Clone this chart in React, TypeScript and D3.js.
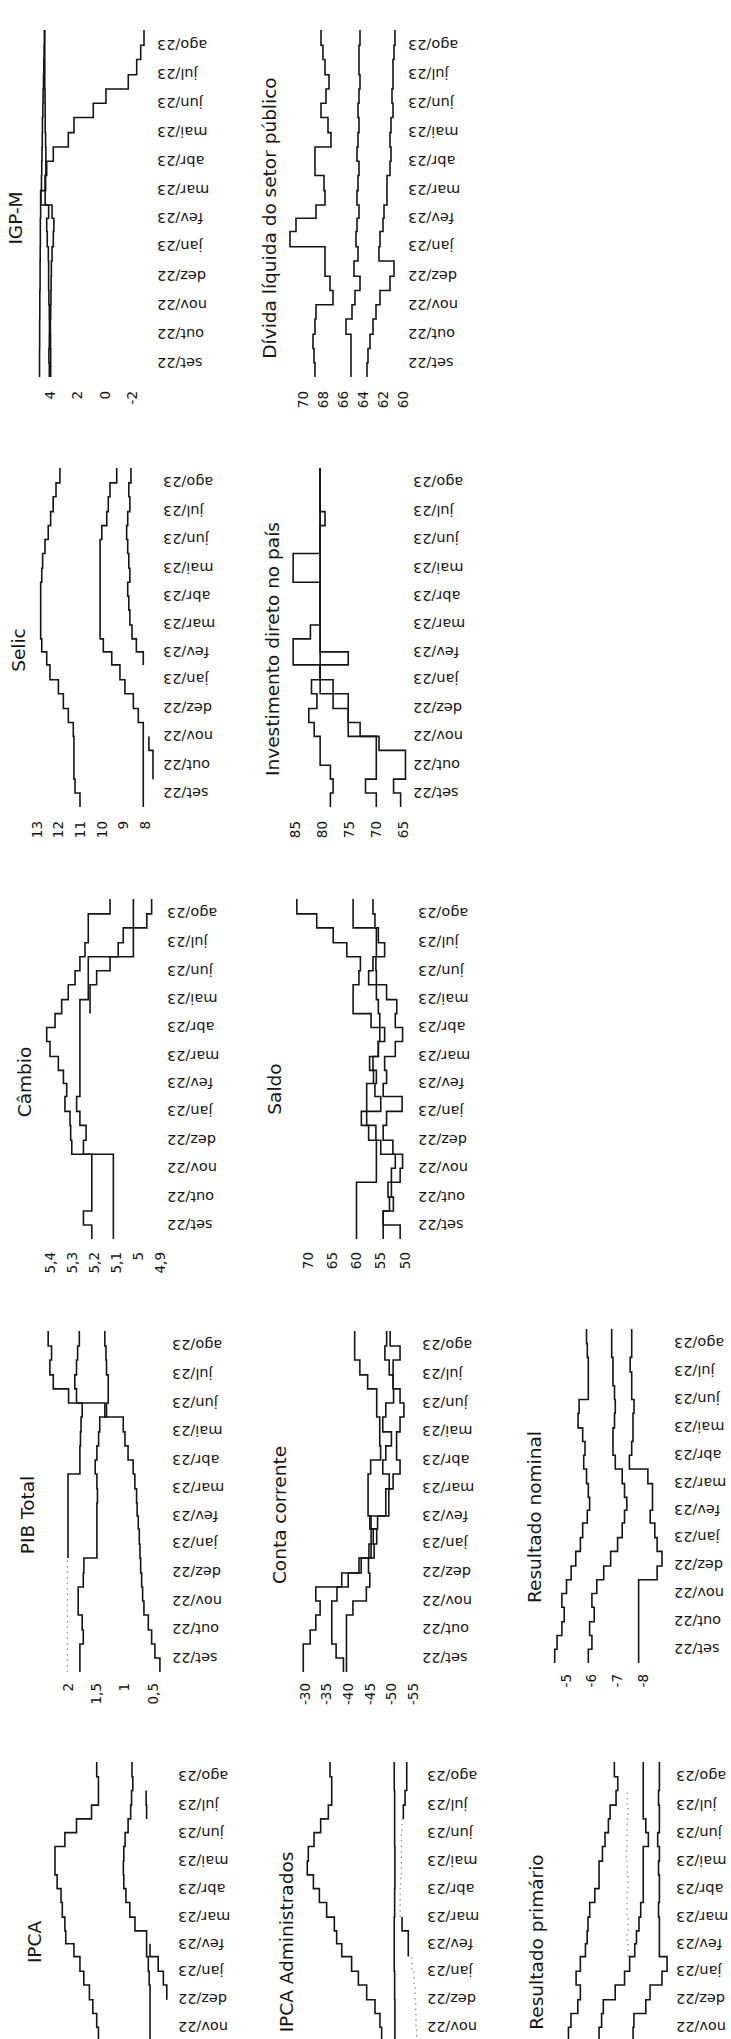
import React from "react";
import * as d3 from "d3";

// ---------- categories ----------
const MONTH_LABELS = ["set/22","out/22","nov/22","dez/22","jan/23","fev/23","mar/23","abr/23","mai/23","jun/23","jul/23","ago/23"];
const MONTH_STARTS = ["2022-09-01","2022-10-01","2022-11-01","2022-12-01","2023-01-01","2023-02-01","2023-03-01","2023-04-01","2023-05-01","2023-06-01","2023-07-01","2023-08-01"];
const END_DATE = "2023-09-01";
// half-month observation periods
const PERIOD_STARTS = ["2022-09-01","2022-09-16","2022-10-01","2022-10-16","2022-11-01","2022-11-16","2022-12-01","2022-12-16","2023-01-01","2023-01-16","2023-02-01","2023-02-15","2023-03-01","2023-03-16","2023-04-01","2023-04-16","2023-05-01","2023-05-16","2023-06-01","2023-06-16","2023-07-01","2023-07-16","2023-08-01","2023-08-16"];

type V = number | null;
const N = null;

// ---------- series values ----------
const IGPM_A: V[] = [4.76,4.76,4.75,4.75,4.74,4.74,4.72,4.72,4.71,4.7,4.7,4.68,4.66,4.62,4.6,4.58,4.56,4.55,4.52,4.5,4.47,4.45,4.43,4.41];
const IGPM_B: V[] = [3.95,3.95,3.96,3.97,3.95,3.93,3.92,3.9,3.85,3.76,3.72,3.85,4.35,4.32,4.3,4.3,4.32,4.35,4.35,4.36,4.38,4.38,4.38,4.38];
const IGPM_C: V[] = [4.05,4.08,4.05,4.04,4.05,4.08,4.1,4.1,4.12,4.2,4.24,4.1,4.68,4.36,4.24,3.76,2.67,2.26,0.86,-0.06,-1.68,-2.29,-2.58,-2.82];

const DIV_A: V[] = [68.8,68.9,69.0,68.8,68.7,67.0,67.3,67.8,67.8,71.3,70.7,68.7,67.8,67.9,68.8,68.8,67.2,67.5,68.2,67.7,67.4,67.8,68.0,68.2];
const DIV_B: V[] = [65.2,65.2,65.2,65.7,65.1,64.8,64.3,64.9,64.5,64.7,64.6,64.4,64.6,64.5,64.4,64.6,64.5,64.4,64.5,64.4,64.3,64.4,64.4,64.3];
const DIV_C: V[] = [63.6,63.5,63.3,63.0,62.7,62.3,61.3,60.9,62.4,62.3,62.0,61.9,61.6,61.6,61.3,61.2,61.3,61.2,61.0,61.1,61.0,61.0,60.9,60.8];

const SELIC_A: V[] = [11.01,11.24,11.29,11.29,11.29,11.32,11.55,11.78,12.01,12.4,12.55,12.78,12.83,12.83,12.83,12.83,12.78,12.74,12.63,12.48,12.37,12.25,12.12,11.94];
const SELIC_B: V[] = [8.08,8.08,8.08,8.08,8.08,8.08,8.31,8.54,8.93,9.16,9.54,9.93,10.08,10.08,10.08,10.08,10.08,10.08,10.08,10.0,9.77,9.7,9.62,9.31];
const SELIC_C: V[] = [N,N,7.63,7.63,7.82,N,N,N,N,N,8.08,8.4,8.6,8.7,8.75,8.8,8.7,8.75,8.8,8.85,8.8,8.7,8.75,8.65];

const INV_A: V[] = [78.5,78.0,78.5,80.4,80.4,81.5,82.5,81.0,82.0,80.4,85.4,85.4,82.2,80.4,80.4,80.4,85.4,85.4,80.4,80.4,79.5,80.4,80.4,80.4];
const INV_B: V[] = [70.0,72.0,70.0,70.0,70.0,75.2,75.2,78.0,80.4,80.4,75.2,80.4,80.4,80.4,80.4,80.4,80.4,80.4,80.4,80.4,80.4,80.4,80.4,80.4];
const INV_C: V[] = [65.5,66.8,64.6,64.6,69.5,73.0,75.2,75.2,78.0,80.4,80.4,80.4,80.4,80.4,80.4,80.4,80.4,80.4,80.4,80.4,80.4,80.4,80.4,80.4];

const CAMBIO_A: V[] = [5.21,5.248,5.21,5.21,5.21,5.21,5.301,5.306,5.309,5.332,5.324,5.339,5.362,5.40,5.415,5.377,5.347,5.317,5.286,5.264,5.241,5.226,5.226,5.127];
const CAMBIO_B: V[] = [5.112,5.112,5.112,5.112,5.112,5.112,5.248,5.236,5.264,5.279,5.264,5.264,5.264,5.264,5.264,5.264,5.264,5.226,5.226,5.226,5.021,5.021,5.021,5.021];
const CAMBIO_C: V[] = [N,N,N,N,N,N,N,N,N,N,N,N,N,N,N,N,5.218,5.218,5.188,5.127,5.09,5.067,4.96,4.938];

const SALDO_A: V[] = [60.0,60.0,60.0,60.0,55.9,55.9,55.9,57.5,59.0,57.9,57.9,56.5,56.6,55.5,55.2,57.0,60.7,60.7,59.5,59.2,62.0,64.8,68.2,72.3];
const SALDO_B: V[] = [54.5,54.5,53.2,52.8,52.8,52.0,55.0,56.0,57.9,55.0,56.2,55.9,57.3,55.5,54.2,55.2,55.5,55.9,55.9,56.0,55.9,55.9,60.7,60.7];
const SALDO_C: V[] = [51.0,54.5,52.4,53.5,51.0,50.5,52.5,54.5,53.8,50.6,54.5,53.8,54.2,52.0,50.5,52.0,51.7,53.8,57.5,56.6,54.2,55.5,56.2,56.6];

const PIB_A: V[] = [0.378,0.466,0.524,0.583,0.66,0.683,0.70,0.718,0.73,0.742,0.76,0.78,0.79,0.82,0.85,0.94,0.995,1.025,1.35,1.99,2.26,2.32,2.29,2.35];
const PIB_B: V[] = [1.79,1.79,1.73,1.75,1.82,1.82,1.73,1.72,1.49,1.49,1.49,1.49,1.48,1.49,1.52,1.49,1.46,1.44,1.32,1.29,1.29,1.32,1.33,1.35];
const PIB_C: V[] = [N,N,N,N,N,N,N,N,2.0,2.0,2.0,2.0,2.0,2.0,1.79,1.79,1.78,1.77,1.75,1.85,1.88,1.85,1.83,1.8];
const PIB_C_DOT: V[] = [2.01,2.01,2.01,2.01,2.01,2.01,2.01,2.01,N,N,N,N,N,N,N,N,N,N,N,N,N,N,N,N];

const CONTA_A: V[] = [-29.6,-29.6,-31.2,-32.5,-33.5,-32.5,-38.5,-43,-45.3,-45.8,-45.3,-44.6,-44.6,-44.6,-45.2,-47.5,-47.3,-47.3,-46.6,-46.6,-44.5,-42.7,-41.5,-41.5];
const CONTA_B: V[] = [-38.9,-37.2,-36.2,-36.2,-36.2,-37.4,-40.0,-42.5,-44.8,-45.3,-46.8,-48.7,-48.7,-49.5,-48,-48.7,-50,-48,-48.7,-50.5,-50.4,-49.5,-48.5,-48.9];
const CONTA_C: V[] = [-39.6,-39.6,-39.6,-39.6,-41.1,-44.2,-45,-44.7,-46,-46.6,-45,-49.4,-49.4,-50.4,-52,-51.2,-51.2,-52,-52.9,-52,-50.4,-50.4,-52,-49.7];

const NOM_A: V[] = [-4.56,-4.65,-4.84,-4.93,-4.84,-5.02,-5.2,-5.38,-5.56,-5.65,-5.83,-5.92,-5.87,-5.8,-5.69,-5.74,-5.65,-5.47,-5.51,-5.87,-5.87,-5.87,-5.83,-5.8];
const NOM_B: V[] = [-5.87,-6.01,-5.92,-6.1,-6.01,-6.2,-6.47,-6.74,-7.01,-7.19,-7.28,-7.37,-7.28,-7.19,-6.92,-6.83,-6.83,-6.89,-6.92,-6.89,-6.83,-6.83,-6.78,-6.78];
const NOM_C: V[] = [-7.83,-7.83,-7.83,-7.83,-7.83,-7.83,-8.55,-8.74,-8.55,-8.46,-8.28,-8.37,-8.37,-8.19,-7.47,-7.56,-7.61,-7.61,-7.65,-7.56,-7.56,-7.5,-7.56,-7.56];

const IPCA_A: V[] = [4.94,4.95,4.98,4.98,4.99,5.03,5.12,5.2,5.33,5.42,5.56,5.75,5.77,5.83,5.86,5.95,6.0,6.0,5.77,5.5,5.15,4.99,4.99,5.03];
const IPCA_B: V[] = [3.79,3.79,3.79,3.79,3.79,3.79,3.79,3.79,3.81,3.83,3.87,3.87,4.14,4.26,4.35,4.4,4.41,4.4,4.37,4.3,4.24,4.22,4.19,4.21];
const IPCA_C: V[] = [N,N,N,N,N,N,N,3.4,3.48,3.6,3.79,N,N,N,N,N,N,N,N,N,3.87,3.88,N,N];

const ADM_A: V[] = [3.59,3.59,3.62,3.72,3.72,3.85,4.23,4.87,5.51,6.03,6.79,7.18,7.36,7.95,8.51,8.97,9.44,9.36,8.92,8.41,7.82,7.56,7.56,7.69];
const ADM_B: V[] = [2.62,2.62,2.65,2.65,2.7,2.7,2.7,2.72,2.72,2.75,2.75,2.75,2.75,2.72,2.72,2.7,2.7,2.7,2.72,2.72,2.72,2.72,2.75,2.75];
const ADM_C: V[] = [N,N,N,N,N,N,N,N,N,N,1.67,1.67,2.15,N,N,N,N,N,N,N,2.05,1.92,1.79,1.79];
const ADM_C_DOT: V[] = [1.03,1.03,1.03,1.03,1.03,1.08,1.1,1.15,1.23,1.4,N,N,N,2.3,2.3,2.25,2.2,2.2,2.2,2.15,N,N,N,N];

const PRIM_A: V[] = [-0.52,-0.53,-0.55,-0.56,-0.57,-0.60,-0.68,-0.71,-0.66,-0.71,-0.77,-0.79,-0.80,-0.82,-0.88,-0.93,-0.93,-0.97,-1.0,-1.04,-1.06,-1.13,-1.15,-1.11];
const PRIM_B: V[] = [-0.93,-0.93,-0.93,-0.93,-0.93,-0.96,-0.98,-1.12,-1.23,-1.29,-1.35,-1.37,-1.40,-1.42,-1.45,-1.45,-1.45,-1.45,-1.51,-1.48,-1.45,-1.45,-1.45,-1.45];
const PRIM_C: V[] = [-1.31,-1.31,-1.31,-1.31,-1.33,-1.34,-1.48,-1.53,-1.67,-1.73,-1.64,-1.64,-1.64,-1.63,-1.64,-1.64,-1.63,-1.64,-1.62,-1.64,-1.64,-1.63,-1.64,-1.64];
const PRIM_D_DOT: V[] = [N,N,N,N,N,N,N,N,N,N,-1.27,-1.26,-1.27,-1.26,-1.26,-1.27,-1.26,-1.25,-1.26,-1.26,-1.27,-1.26,N,N];

// ---------- tick labels ----------
const TICKS_IGPM = [4, 2, 0, -2];
const TICKS_DIV = [70, 68, 66, 64, 62, 60];
const TICKS_SELIC = [13, 12, 11, 10, 9, 8];
const TICKS_INV = [85, 80, 75, 70, 65];
const TICKS_CAMBIO = [5.4, 5.3, 5.2, 5.1, 5, 4.9];
const TICKS_SALDO = [70, 65, 60, 55, 50];
const TICKS_PIB = [2, 1.5, 1, 0.5];
const TICKS_CONTA = [-30, -35, -40, -45, -50, -55];
const TICKS_NOM = [-5, -6, -7, -8];
const TICKS_IPCA = [6, 5, 4, 3];
const TICKS_ADM = [10, 8, 6, 4, 2, 0];
const TICKS_PRIM = [0, -0.5, -1, -1.5, -2];

// ---------- layout ----------
const PAGE_W = 731;
const PAGE_H = 2039;

interface SeriesDef { values: V[]; dotted?: boolean }
interface ChartDef {
  title: string; titleX: number; titleY: number;
  top: number; bottom: number; labelX: number; tickY: number;
  domain: [number, number]; range: [number, number];
  ticks: number[]; series: SeriesDef[];
}

const CHARTS: ChartDef[] = [
  { title: "IGP-M", titleX: 16, titleY: 218, top: 30, bottom: 377, labelX: 157, tickY: 391, domain: [4, -2], range: [50, 132.7], ticks: TICKS_IGPM,
    series: [{ values: IGPM_A }, { values: IGPM_B }, { values: IGPM_C }] },
  { title: "Dívida líquida do setor público", titleX: 270, titleY: 218, top: 30, bottom: 377, labelX: 408, tickY: 391, domain: [70, 60], range: [303, 403], ticks: TICKS_DIV,
    series: [{ values: DIV_A }, { values: DIV_B }, { values: DIV_C }] },
  { title: "Selic", titleX: 19, titleY: 650, top: 468, bottom: 807, labelX: 163, tickY: 821, domain: [13, 8], range: [37, 145], ticks: TICKS_SELIC,
    series: [{ values: SELIC_A }, { values: SELIC_B }, { values: SELIC_C }] },
  { title: "Investimento direto no país", titleX: 273, titleY: 649, top: 468, bottom: 807, labelX: 413, tickY: 821, domain: [85, 65], range: [295.3, 403.3], ticks: TICKS_INV,
    series: [{ values: INV_C }, { values: INV_B }, { values: INV_A }] },
  { title: "Câmbio", titleX: 25, titleY: 1082, top: 899, bottom: 1239, labelX: 167, tickY: 1252, domain: [5.4, 4.9], range: [50, 160], ticks: TICKS_CAMBIO,
    series: [{ values: CAMBIO_A }, { values: CAMBIO_B }, { values: CAMBIO_C }] },
  { title: "Saldo", titleX: 275, titleY: 1089, top: 899, bottom: 1239, labelX: 418, tickY: 1252, domain: [70, 50], range: [308, 405], ticks: TICKS_SALDO,
    series: [{ values: SALDO_A }, { values: SALDO_B }, { values: SALDO_C }] },
  { title: "PIB Total", titleX: 28, titleY: 1515, top: 1331, bottom: 1672, labelX: 172, tickY: 1683, domain: [2, 0.5], range: [68, 153], ticks: TICKS_PIB,
    series: [{ values: PIB_C_DOT, dotted: true }, { values: PIB_A }, { values: PIB_B }, { values: PIB_C }] },
  { title: "Conta corrente", titleX: 280, titleY: 1515, top: 1331, bottom: 1672, labelX: 422, tickY: 1683, domain: [-30, -55], range: [305, 413], ticks: TICKS_CONTA,
    series: [{ values: CONTA_A }, { values: CONTA_B }, { values: CONTA_C }] },
  { title: "Resultado nominal", titleX: 535, titleY: 1517, top: 1329, bottom: 1663, labelX: 674, tickY: 1674, domain: [-5, -8], range: [566, 643], ticks: TICKS_NOM,
    series: [{ values: NOM_A }, { values: NOM_B }, { values: NOM_C }] },
  { title: "IPCA", titleX: 35, titleY: 1942, top: 1762, bottom: 2097, labelX: 178, tickY: 2111, domain: [6, 3], range: [55, 184], ticks: TICKS_IPCA,
    series: [{ values: IPCA_A }, { values: IPCA_B }, { values: IPCA_C }] },
  { title: "IPCA Administrados", titleX: 287, titleY: 1942, top: 1762, bottom: 2097, labelX: 427, tickY: 2111, domain: [10, 0], range: [300, 430], ticks: TICKS_ADM,
    series: [{ values: ADM_C_DOT, dotted: true }, { values: ADM_A }, { values: ADM_B }, { values: ADM_C }] },
  { title: "Resultado primário", titleX: 537, titleY: 1942, top: 1762, bottom: 2097, labelX: 676, tickY: 2111, domain: [0, -2], range: [520, 690], ticks: TICKS_PRIM,
    series: [{ values: PRIM_D_DOT, dotted: true }, { values: PRIM_A }, { values: PRIM_B }, { values: PRIM_C }] },
];

const parse = d3.timeParse("%Y-%m-%d");
const periodDates = PERIOD_STARTS.map((s) => parse(s) as Date);
const monthDates = MONTH_STARTS.map((s) => parse(s) as Date);
const endDate = parse(END_DATE) as Date;

const FONT = "'DejaVu Sans', 'Open Sans', sans-serif";
const INK = "#151515";
const fmt = (v: number) => String(v).replace(".", ",");

type P = { d: Date; v: number };

function Chart({ c }: { c: ChartDef }) {
  const y = d3.scaleTime().domain([periodDates[0], endDate]).range([c.bottom, c.top]);
  const x = d3.scaleLinear().domain(c.domain).range(c.range);
  const line = d3.line<P>().x((p) => x(p.v)).y((p) => y(p.d)).curve(d3.curveStepBefore);

  const paths: React.ReactNode[] = [];
  c.series.forEach((s, si) => {
    let cur: P[] = [];
    let k = 0;
    s.values.forEach((v, i) => {
      if (v === null) return;
      cur.push({ d: periodDates[i], v });
      const nxt = s.values[i + 1];
      if (nxt === null || nxt === undefined) {
        cur.push({ d: i + 1 < periodDates.length ? periodDates[i + 1] : endDate, v });
        paths.push(
          <path key={`${si}-${k++}`} d={line(cur) || ""} fill="none"
            stroke={s.dotted ? "#8a8a8a" : INK} strokeWidth={s.dotted ? 1.2 : 1.6}
            strokeDasharray={s.dotted ? "1.5 4" : undefined} strokeLinejoin="miter" />
        );
        cur = [];
      }
    });
  });

  const months = MONTH_LABELS.map((m, k) => {
    const y0 = y(monthDates[k]);
    const y1 = y(k + 1 < monthDates.length ? monthDates[k + 1] : endDate);
    return { m, yc: (y0 + y1) / 2 };
  }).filter((o) => o.yc + 8 < PAGE_H);

  const showTicks = c.tickY + 4 < PAGE_H;

  return (
    <g>
      <text transform={`translate(${c.titleX},${c.titleY}) rotate(-90)`} textAnchor="middle" dy="0.35em"
        fontFamily={FONT} fontSize={18.5} fill={INK}>{c.title}</text>
      {months.map(({ m, yc }) => (
        <text key={m} transform={`translate(${c.labelX},${yc}) rotate(180)`} textAnchor="end" dy="0.35em"
          fontFamily={FONT} fontSize={14.5} fill={INK}>{m}</text>
      ))}
      {showTicks && c.ticks.map((t) => (
        <text key={t} transform={`translate(${x(t)},${c.tickY}) rotate(-90)`} textAnchor="end" dy="0.35em"
          fontFamily={FONT} fontSize={13.5} fill={INK}>{fmt(t)}</text>
      ))}
      {paths}
    </g>
  );
}

export default function App() {
  return (
    <svg width={PAGE_W} height={PAGE_H} viewBox={`0 0 ${PAGE_W} ${PAGE_H}`}
      style={{ position: "absolute", left: 0, top: 0, display: "block", background: "#fff" }}>
      <rect x={0} y={0} width={PAGE_W} height={PAGE_H} fill="#fff" />
      {CHARTS.map((c) => <Chart key={c.title} c={c} />)}
    </svg>
  );
}
